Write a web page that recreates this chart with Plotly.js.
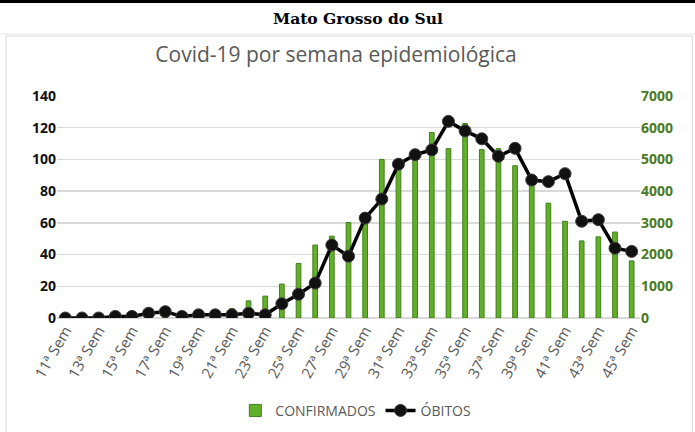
<!DOCTYPE html>
<html>
<head>
<meta charset="utf-8">
<script src="https://cdn.plot.ly/plotly-3.0.1.min.js"></script>
<style>html,body{margin:0;padding:0;background:#fff;}#chart{width:695px;height:432px;}</style>
</head>
<body>
<div id="chart"></div>
<script>
const weeks = [11,12,13,14,15,16,17,18,19,20,21,22,23,24,25,26,27,28,29,30,31,32,33,34,35,36,37,38,39,40,41,42,43,44,45];
const categories = weeks.map(w => w + "ª Sem");
const confirmados = [1,3,5,10,15,25,40,60,90,150,300,540,690,1070,1720,2300,2580,3010,3300,5000,4900,4980,5850,5340,6130,5310,5340,4800,4450,3620,3050,2430,2560,2710,1800];
const obitos = [0,0,0,1,1,3,4,1,2,2,2,3,2,9,15,22,46,39,63,75,97,103,106,124,118,113,102,107,87,86,91,61,62,44,42];
const tickCats = categories.filter((c, i) => i % 2 === 0);

const font = "'Open Sans', 'DejaVu Sans', sans-serif";

const data = [
  {
    type: 'bar', name: 'CONFIRMADOS', x: categories, y: confirmados, yaxis: 'y',
    marker: {color: '#62b02a', line: {color: '#3f7f18', width: 1}},
    hoverinfo: 'x+y'
  },
  {
    type: 'scatter', mode: 'lines+markers', name: 'ÓBITOS', x: categories, y: obitos, yaxis: 'y2',
    line: {color: '#000', width: 3.5},
    marker: {color: '#111', size: 12, line: {color: '#3a3a3a', width: 1}}
  }
];

const layout = {
  width: 695, height: 432,
  margin: {l: 57, r: 55, t: 96, b: 114},
  paper_bgcolor: '#fff', plot_bgcolor: '#fff',
  font: {family: font, color: '#595959'},
  showlegend: true,
  bargap: 0.72,
  title: {
    text: 'Covid-19 por semana epidemiológica',
    font: {family: font, size: 21, color: '#595959'},
    x: 0.4835, y: 0.873, xref: 'container', yref: 'container', xanchor: 'center', yanchor: 'middle'
  },
  xaxis: {
    type: 'category', range: [-0.5, 34.5], automargin: false,
    tickmode: 'array', tickvals: tickCats, ticktext: tickCats,
    tickangle: -60, tickfont: {family: font, size: 15, color: '#595959'},
    showgrid: false, showline: false, ticks: '', zeroline: false
  },
  yaxis: {
    side: 'right', range: [0, 7000], dtick: 1000,
    tickfont: {family: font, size: 14, color: '#4a7a22', weight: 'bold'},
    showgrid: true, gridcolor: '#d9d9d9', gridwidth: 1.5,
    zeroline: true, zerolinecolor: '#d9d9d9', zerolinewidth: 1.5,
    showline: false, ticks: '', ticklen: 0, automargin: false
  },
  yaxis2: {
    overlaying: 'y', side: 'left', range: [0, 140], dtick: 20,
    tickfont: {family: font, size: 14, color: '#111', weight: 'bold'},
    showgrid: false, zeroline: false, showline: false, ticks: '', automargin: false
  },
  legend: {
    orientation: 'h', xref: 'container', yref: 'container',
    x: 0.512, xanchor: 'center', y: 0.049, yanchor: 'middle',
    font: {family: font, size: 14, color: '#595959'}, traceorder: 'normal'
  },
  shapes: [
    {type: 'rect', xref: 'paper', yref: 'paper', x0: -0.0874, x1: 1.0898, y0: -0.53, y1: 1.27,
     line: {color: '#d9d9d9', width: 1}, fillcolor: 'rgba(0,0,0,0)', layer: 'below'},
    {type: 'line', xref: 'paper', yref: 'paper', x0: -0.1, x1: 1.1, y0: 1.4257, y1: 1.4257,
     line: {color: '#000', width: 3}},
    {type: 'line', xref: 'paper', yref: 'paper', x0: -0.1, x1: 1.1, y0: 1.279, y1: 1.279,
     line: {color: '#e6e6e6', width: 1}}
  ],
  annotations: [
    {text: '<b>Mato Grosso do Sul</b>', xref: 'paper', yref: 'paper', x: 0.516, y: 1.351,
     xanchor: 'center', yanchor: 'middle', showarrow: false,
     font: {family: "'DejaVu Serif', serif", size: 15.5, color: '#000'}}
  ]
};

Plotly.newPlot('chart', data, layout, {displayModeBar: false, staticPlot: true});
</script>
</body>
</html>
